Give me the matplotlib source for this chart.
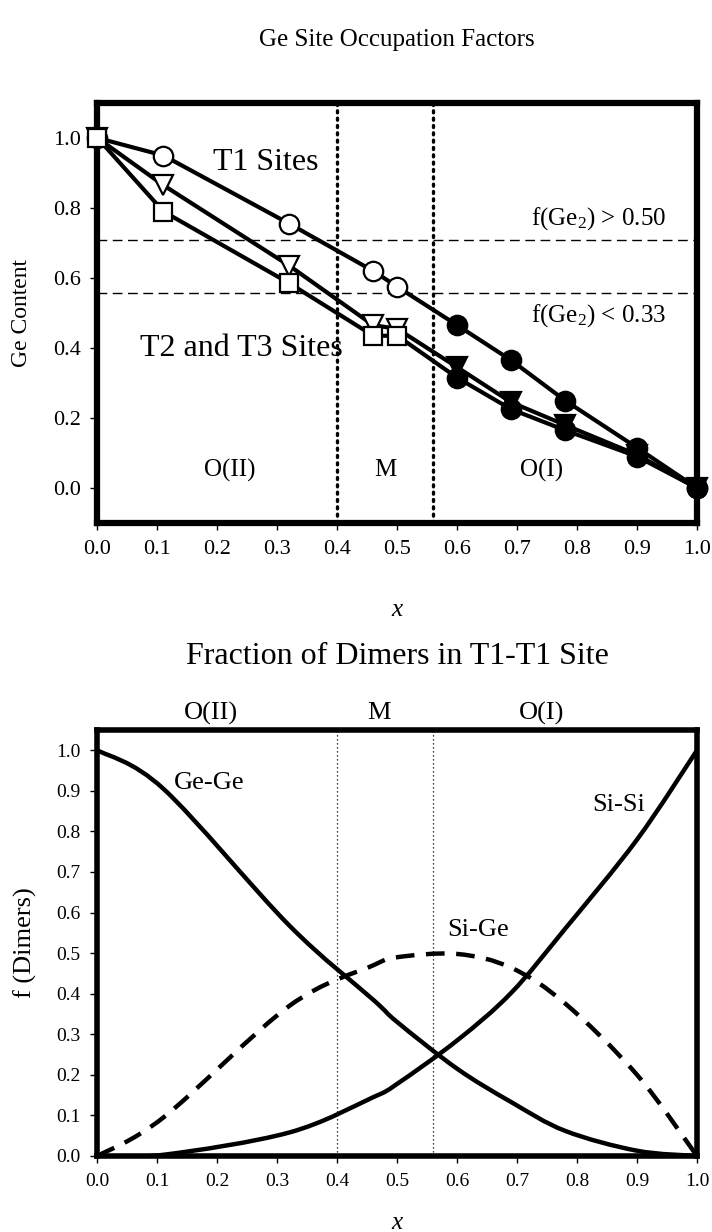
import matplotlib
matplotlib.use("Agg")
import matplotlib.pyplot as plt
from matplotlib.path import Path
from matplotlib.patches import PathPatch
import numpy as np

plt.rcParams['font.family'] = ['Liberation Serif', 'DejaVu Serif']
plt.rcParams['mathtext.fontset'] = 'custom'
plt.rcParams['mathtext.rm'] = 'Liberation Serif'
plt.rcParams['mathtext.it'] = 'Liberation Serif:italic'

# ---------------- data: top panel ----------------
x_comp = [0.0, 0.11, 0.32, 0.46, 0.50, 0.60, 0.69, 0.78, 0.90, 1.0]
t1_ge = [1.0, 0.95, 0.755, 0.62, 0.575, 0.465, 0.365, 0.25, 0.115, 0.0]
t2_ge = [1.0, 0.865, 0.635, 0.465, 0.455, 0.345, 0.245, 0.18, 0.095, 0.0]
t3_ge = [1.0, 0.79, 0.585, 0.435, 0.435, 0.315, 0.225, 0.165, 0.09, 0.0]
n_open = 5  # first five samples drawn with open markers
phase_bounds = [0.40, 0.56]
fge2_levels = [0.708, 0.557]
top_xticks = [0.0, 0.1, 0.2, 0.3, 0.4, 0.5, 0.6, 0.7, 0.8, 0.9, 1.0]
top_yticks = [0.0, 0.2, 0.4, 0.6, 0.8, 1.0]

# ---------------- data: bottom panel (read at the sample compositions) ----------------
x_dim = [0.0, 0.11, 0.32, 0.46, 0.50, 0.60, 0.69, 0.78, 0.90, 1.0]
ge_ge = [1.0, 0.905, 0.568, 0.385, 0.33, 0.215, 0.133, 0.062, 0.013, 0.0]
si_si = [0.0, 0.003, 0.058, 0.145, 0.178, 0.285, 0.402, 0.56, 0.78, 1.0]
si_ge = [0.0, 0.095, 0.37, 0.47, 0.49, 0.498, 0.464, 0.376, 0.2, 0.0]
bot_yticks = [0.0, 0.1, 0.2, 0.3, 0.4, 0.5, 0.6, 0.7, 0.8, 0.9, 1.0]


def smooth_path(xs, ys):
    """Excel-style smoothed line: cubic Bezier segments through every data point."""
    p = np.column_stack([xs, ys]).astype(float)
    n = len(p)
    verts = [p[0]]
    codes = [Path.MOVETO]
    for i in range(n - 1):
        p0 = p[i - 1] if i > 0 else p[i]
        p1 = p[i]
        p2 = p[i + 1]
        p3 = p[i + 2] if i + 2 < n else p[i + 1]
        c1 = p1 + (p2 - p0) / 6.0
        c2 = p2 - (p3 - p1) / 6.0
        verts += [c1, c2, p2]
        codes += [Path.CURVE4] * 3
    return Path(verts, codes)


W, H = 712, 1232
fig = plt.figure(figsize=(W / 100, H / 100), dpi=100)

L = 97.5 / W
Wd = (697 - 97.5) / W

# ================= top panel =================
ax1 = fig.add_axes([L, 1 - 523 / H, Wd, (523 - 103) / H])
ax1.set_xlim(0, 1)
ax1.set_ylim(-0.1, 1.1)

for xb in phase_bounds:
    ax1.axvline(xb, color='black', lw=2.4, ls=(0, (0.6, 1.6)),
                dash_capstyle='round', zorder=1)
for yl in fge2_levels:
    ax1.axhline(yl, color='black', lw=1.0, ls=(0, (7, 4)), zorder=1)

series = [(t1_ge, 'o', 'o'), (t2_ge, 'v', 'v'), (t3_ge, 's', 'o')]
for ys, m_open, m_fill in series:
    ax1.plot(x_comp, ys, color='black', lw=3.0, zorder=2)
for ys, m_open, m_fill in series:
    ax1.plot(x_comp[:n_open], ys[:n_open], ls='none', marker=m_open,
             ms=14 if m_open != 's' else 13, mfc='white', mec='black',
             mew=1.6, zorder=3, clip_on=False)
    ax1.plot(x_comp[n_open:], ys[n_open:], ls='none', marker=m_fill,
             ms=14, mfc='black', mec='black', mew=1.6, zorder=4, clip_on=False)

ax1.set_xticks(top_xticks)
ax1.set_xticklabels([f"{v:.1f}" for v in top_xticks])
ax1.set_yticks(top_yticks)
ax1.set_yticklabels([f"{v:.1f}" for v in top_yticks])
ax1.tick_params(axis='both', direction='out', length=5, width=1.0,
                labelsize=16, pad=7)
for s in ax1.spines.values():
    s.set_linewidth(4.5)

ax1.text(0.28, 0.93, 'T1 Sites', fontsize=23, ha='center', va='center')
ax1.text(0.24, 0.40, 'T2 and T3 Sites', fontsize=23, ha='center', va='center')
ax1.text(0.835, 0.77, r'f(Ge$_2$) > 0.50', fontsize=18, ha='center', va='center')
ax1.text(0.835, 0.494, r'f(Ge$_2$) < 0.33', fontsize=18, ha='center', va='center')
ax1.text(0.22, 0.05, 'O(II)', fontsize=18, ha='center', va='center')
ax1.text(0.48, 0.05, 'M', fontsize=18, ha='center', va='center')
ax1.text(0.74, 0.05, 'O(I)', fontsize=18, ha='center', va='center')

fig.text(22 / W, 1 - 313 / H, 'Ge Content', rotation=90, fontsize=17,
         ha='center', va='center')
fig.text(397 / W, 1 - 610 / H, 'x', fontsize=18, style='italic',
         ha='center', va='center')
fig.text(397 / W, 1 - 40 / H, 'Ge Site Occupation Factors', fontsize=18,
         ha='center', va='center')

# ================= bottom panel =================
ax2 = fig.add_axes([L, 1 - 1156 / H, Wd, (1156 - 730) / H])
ax2.set_xlim(0, 1)
ax2.set_ylim(0, 1.05)

for xb in phase_bounds:
    ax2.axvline(xb, color='black', lw=0.9, ls=(0, (1, 2.2)), zorder=1)

for ys, style in [(ge_ge, '-'), (si_si, '-'), (si_ge, (0, (4.2, 2.6)))]:
    patch = PathPatch(smooth_path(x_dim, ys), fill=False, edgecolor='black',
                      lw=3.2, linestyle=style, transform=ax2.transData,
                      zorder=2, capstyle='butt', joinstyle='round')
    ax2.add_patch(patch)

ax2.set_xticks(top_xticks)
ax2.set_xticklabels([f"{v:.1f}" for v in top_xticks])
ax2.set_yticks(bot_yticks)
ax2.set_yticklabels([f"{v:.1f}" for v in bot_yticks])
ax2.tick_params(axis='both', direction='out', length=5, width=1.0,
                labelsize=14, pad=7)
for s in ax2.spines.values():
    s.set_linewidth(4.0)

ax2.text(0.127, 0.92, 'Ge-Ge', fontsize=19, ha='left', va='center')
ax2.text(0.825, 0.865, 'Si-Si', fontsize=19, ha='left', va='center')
ax2.text(0.583, 0.558, 'Si-Ge', fontsize=19, ha='left', va='center')

for xt, lab in [(0.19, 'O(II)'), (0.47, 'M'), (0.74, 'O(I)')]:
    fig.text(L + xt * Wd, 1 - 713 / H, lab, fontsize=19,
             ha='center', va='center')

fig.text(25 / W, 1 - 943 / H, 'f (Dimers)', rotation=90, fontsize=19,
         ha='center', va='center')
fig.text(397 / W, 1 - 1223 / H, 'x', fontsize=18, style='italic',
         ha='center', va='center')
fig.text(397 / W, 1 - 657 / H, 'Fraction of Dimers in T1-T1 Site', fontsize=23,
         ha='center', va='center')

fig.savefig('out.png', dpi=100)
